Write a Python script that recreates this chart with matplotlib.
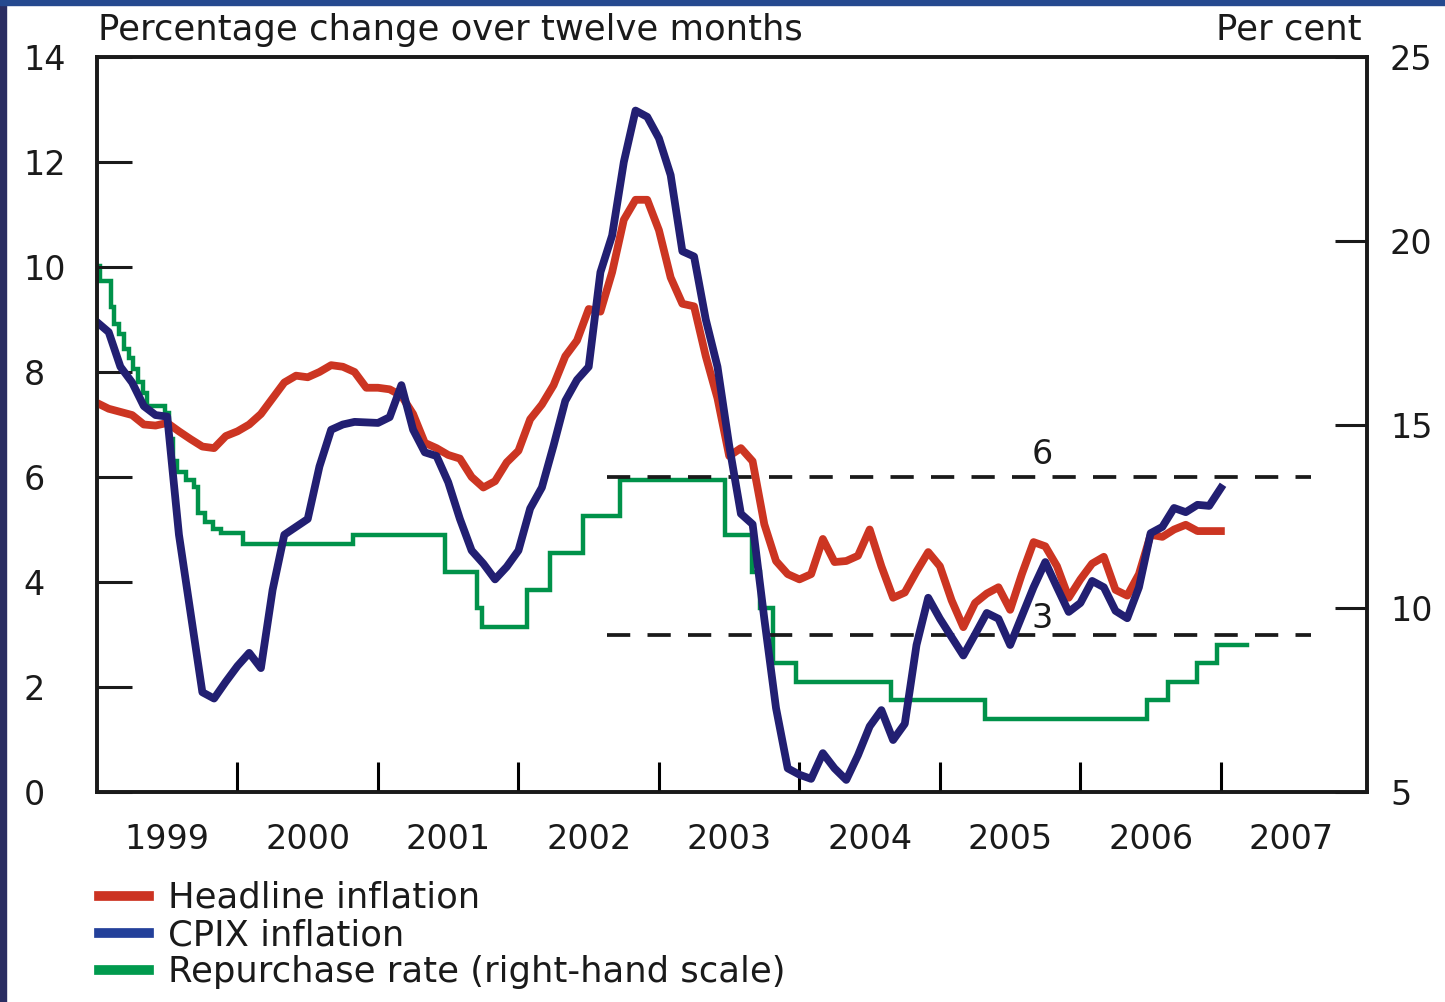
import matplotlib
matplotlib.use("Agg")
import matplotlib.pyplot as plt
from matplotlib.lines import Line2D
from matplotlib.patches import Rectangle
import numpy as np

plt.rcParams['font.family'] = ['DejaVu Sans']

# monthly data, Jan 1999 - Jan 2007 (per cent, twelve-month change)
headline = [7.41, 7.30, 7.24, 7.18, 7.00, 6.98, 7.03, 6.87, 6.72, 6.58, 6.55, 6.78,
            6.87, 7.00, 7.20, 7.50, 7.80, 7.93, 7.90, 8.00, 8.13, 8.10, 8.00, 7.70,
            7.70, 7.67, 7.55, 7.20, 6.65, 6.55, 6.42, 6.35, 6.00, 5.80, 5.92, 6.28,
            6.50, 7.10, 7.38, 7.75, 8.30, 8.60, 9.20, 9.15, 9.90, 10.90, 11.28, 11.28,
            10.70, 9.80, 9.30, 9.25, 8.30, 7.50, 6.40, 6.55, 6.30, 5.10, 4.40, 4.15,
            4.05, 4.15, 4.82, 4.38, 4.40, 4.50, 5.00, 4.30, 3.70, 3.80, 4.20, 4.57,
            4.30, 3.65, 3.14, 3.60, 3.78, 3.90, 3.47, 4.15, 4.76, 4.68, 4.30, 3.70,
            4.05, 4.35, 4.48, 3.85, 3.74, 4.15, 4.90, 4.86, 5.00, 5.09, 4.97, 4.97, 4.97]
cpix = [8.95, 8.76, 8.10, 7.80, 7.35, 7.18, 7.15, 4.90, 3.40, 1.90, 1.78, 2.10,
        2.40, 2.65, 2.36, 3.85, 4.90, 5.05, 5.20, 6.20, 6.90, 7.00, 7.05, 7.04,
        7.03, 7.14, 7.75, 6.90, 6.47, 6.40, 5.90, 5.20, 4.60, 4.35, 4.05, 4.29,
        4.60, 5.40, 5.80, 6.60, 7.45, 7.85, 8.10, 9.90, 10.60, 12.00, 12.98, 12.86,
        12.45, 11.75, 10.30, 10.20, 9.00, 8.10, 6.60, 5.30, 5.10, 3.30, 1.60, 0.45,
        0.33, 0.25, 0.74, 0.45, 0.23, 0.70, 1.25, 1.56, 0.99, 1.30, 2.80, 3.70,
        3.30, 2.95, 2.60, 3.00, 3.41, 3.30, 2.80, 3.35, 3.90, 4.38, 3.90, 3.43,
        3.60, 4.02, 3.90, 3.45, 3.31, 3.90, 4.93, 5.05, 5.41, 5.33, 5.47, 5.45, 5.79]
months = 1999 + np.arange(len(headline)) / 12

# repurchase rate: dates of change and new level (right-hand scale)
repo_dates = [1999.000, 1999.024, 1999.103, 1999.124, 1999.160, 1999.195, 1999.231,
              1999.259, 1999.295, 1999.330, 1999.359, 1999.487, 1999.516, 1999.544,
              1999.566, 1999.630, 1999.694, 1999.722, 1999.772, 1999.829, 1999.886,
              2000.036, 2000.819, 2001.475, 2001.703, 2001.739, 2002.059, 2002.222,
              2002.457, 2002.721, 2003.469, 2003.661, 2003.718, 2003.810, 2003.974,
              2004.651, 2005.320, 2006.474, 2006.624, 2006.830, 2006.973, 2007.187]
repo_rate = [19.32, 18.90, 18.20, 17.74, 17.45, 17.05, 16.80, 16.50, 16.15, 15.85,
             15.50, 15.30, 14.60, 14.00, 13.70, 13.50, 13.30, 12.60, 12.35, 12.15,
             12.05, 11.75, 12.00, 11.00, 10.00, 9.50, 10.50, 11.50, 12.50, 13.50,
             12.00, 11.00, 10.00, 8.50, 8.00, 7.50, 7.00, 7.50, 8.00, 8.50, 9.00, 9.00]

target_band = [3, 6]
band_start, band_end = 2002.63, 2007.64
years = ['1999', '2000', '2001', '2002', '2003', '2004', '2005', '2006', '2007']
left_ticks = [0, 2, 4, 6, 8, 10, 12, 14]
right_ticks = [5, 10, 15, 20, 25]

RED = '#CC3522'
NAVY = '#221F72'
GREEN = '#00924A'
INK = '#1a1a1a'
FS = 24

fig = plt.figure(figsize=(14.45, 10.02), dpi=100)
fig.patches.append(Rectangle((0, 0), 6 / 1445, 1, transform=fig.transFigure,
                             color='#2a2d62', zorder=-1))
fig.patches.append(Rectangle((0, 1 - 5 / 1002), 1, 5 / 1002, transform=fig.transFigure,
                             color='#25498f', zorder=-1))

ax = fig.add_axes([97 / 1445, 1 - 792 / 1002, 1270 / 1445, 735 / 1002])
ax2 = ax.twinx()
ax.set_zorder(ax2.get_zorder() + 1)
ax.patch.set_visible(False)

ax2.plot(repo_dates, repo_rate, drawstyle='steps-post', color=GREEN, lw=3.2,
         solid_joinstyle='miter')
ax.plot(months, headline, color=RED, lw=5.6, solid_joinstyle='round')
ax.plot(months, cpix, color=NAVY, lw=5.6, solid_joinstyle='round')

for lvl in target_band:
    ax.hlines(lvl, band_start, band_end, colors=INK, lw=2.7,
              linestyles=(0, (6.2, 4.6)), zorder=1)
ax.text(2005.73, 6.43, '6', fontsize=FS, ha='center', va='center', color=INK)
ax.text(2005.73, 3.30, '3', fontsize=FS, ha='center', va='center', color=INK)

ax.set_xlim(1999.0, 2008.04)
ax.set_ylim(0, 14)
ax2.set_ylim(5, 25)

for a in (ax, ax2):
    for sp in a.spines.values():
        sp.set_linewidth(2.6)
        sp.set_color(INK)

ax.set_yticks(left_ticks)
ax.set_yticklabels([str(t) for t in left_ticks])
ax.tick_params(axis='y', direction='in', length=25, width=2.2, pad=53,
               labelsize=FS, colors=INK)
for lab in ax.get_yticklabels():
    lab.set_ha('left')

ax2.set_yticks(right_ticks)
ax2.set_yticklabels([str(t) for t in right_ticks])
ax2.tick_params(axis='y', direction='in', length=23, width=2.2, pad=16.5,
                labelsize=FS, colors=INK)

ax.set_xticks(np.arange(2000, 2008))
ax.set_xticks(np.arange(1999.5, 2008, 1), minor=True)
ax.set_xticklabels(years, minor=True)
ax.tick_params(axis='x', which='major', direction='in', length=21.5, width=2.2,
               labelbottom=False, top=False)
ax.tick_params(axis='x', which='minor', length=0, pad=22, labelsize=FS,
               colors=INK, top=False)

fig.text(98 / 1445, 1 - 40 / 1002, 'Percentage change over twelve months',
         fontsize=25.5, ha='left', va='baseline', color=INK)
fig.text(1362 / 1445, 1 - 40 / 1002, 'Per cent',
         fontsize=25.5, ha='right', va='baseline', color=INK)

handles = [Line2D([], [], color='#CC3322', lw=7),
           Line2D([], [], color='#23409A', lw=7),
           Line2D([], [], color='#009A4E', lw=7)]
labels = ['Headline inflation', 'CPIX inflation', 'Repurchase rate (right-hand scale)']
fig.legend(handles, labels, loc='upper left', bbox_to_anchor=(99 / 1445, 1 - 881 / 1002),
           frameon=False, handlelength=1.4, handletextpad=0.55,
           labelspacing=0.09, borderpad=0, borderaxespad=0,
           prop={'size': 25.5}, labelcolor=INK)

fig.savefig('out.png', dpi=100, facecolor='white')
